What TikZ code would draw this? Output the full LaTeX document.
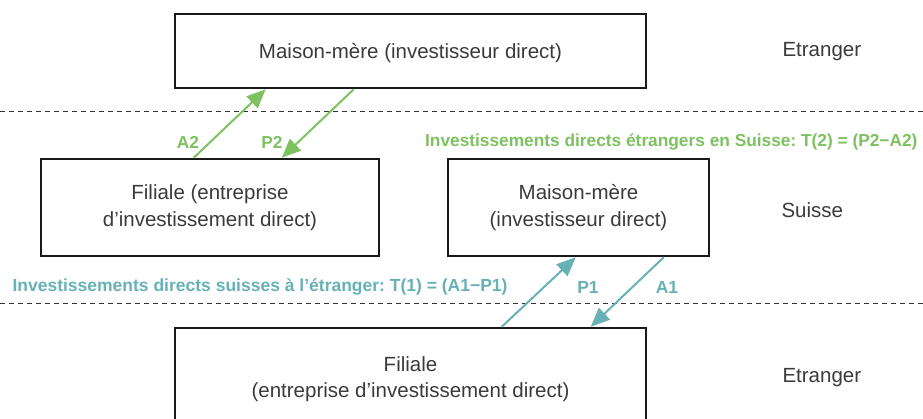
\documentclass[tikz,border=0pt]{standalone}
\usepackage{fontspec}
\setmainfont{Liberation Sans}
\usetikzlibrary{arrows.meta}
\frenchspacing
\definecolor{txt}{HTML}{3A3A3A}
\definecolor{grn}{HTML}{7DC160}
\definecolor{teal}{HTML}{67B1B6}
\tikzset{
  box/.style={draw=black!90, line width=2.5pt, text=txt, align=center, inner sep=0pt,
    font=\fontsize{20.5}{27}\selectfont},
  side/.style={text=txt, font=\fontsize{20.5}{24}\selectfont, anchor=west},
  sep/.style={dashed, dash pattern=on 5pt off 4pt, line width=1pt, black!80},
  garr/.style={grn, line width=2pt, -{Triangle[length=19pt,width=16pt]}},
  tarr/.style={teal, line width=2pt, -{Triangle[length=19pt,width=16pt]}},
  glab/.style={text=grn, font=\bfseries\fontsize{17.3}{20}\selectfont},
  tlab/.style={text=teal, font=\bfseries\fontsize{17.5}{20}\selectfont}
}
\begin{document}
\begin{tikzpicture}[x=1pt,y=-1pt]
\useasboundingbox (0,0) rectangle (923,418);
\clip (0,0) rectangle (923,418);
\coordinate (l1w) at (0,111); \coordinate (l1e) at (923,111);
\coordinate (l2w) at (0,303); \coordinate (l2e) at (923,303);
\draw[sep] (l1w) -- (l1e);
\draw[sep] (l2w) -- (l2e);
\node[box, minimum width=471pt, minimum height=74pt] (top) at (410.5,51) {};
\node[text=txt, font=\fontsize{20.5}{27}\selectfont] (toptxt) at (410.5,53) {Maison-mère (investisseur direct)};
\node[box, minimum width=338pt, minimum height=97pt] (fil) at (210,207.5) {Filiale (entreprise\\d’investissement direct)};
\node[box, minimum width=261pt, minimum height=97pt] (mid) at (578.5,207.5) {Maison-mère\\(investisseur direct)};
\node[box, minimum width=471pt, minimum height=112pt] (bot) at (410.5,384) {};
\node[text=txt, align=center, font=\fontsize{20.5}{26}\selectfont] (bottxt) at (410.5,379) {Filiale\\(entreprise d’investissement direct)};
\node[side] (e1) at (779,52) {Etranger};
\node[side] (s1) at (778,210) {Suisse};
\node[side] (e2) at (779,378) {Etranger};
\draw[garr] ([xshift=154pt]fil.north west) -- ([xshift=92pt]top.south west);
\draw[garr] ([xshift=180pt]top.south west) -- ([xshift=242pt]fil.north west);
\draw[tarr] ([xshift=328pt]bot.north west) -- ([xshift=129pt]mid.south west);
\draw[tarr] ([xshift=217pt]mid.south west) -- ([xshift=417pt]bot.north west);
\node[glab] (a2) at (188,142) {A2};
\node[glab] (p2) at (272,142) {P2};
\node[glab, anchor=east] (g) at (921,142) {Investissements directs étrangers en Suisse: T(2) = (P2−A2)};
\node[tlab, anchor=west] (t) at (9,287) {Investissements directs suisses à l’étranger: T(1) = (A1−P1)};
\node[tlab] (p1) at (588,287) {P1};
\node[tlab] (a1) at (667,287) {A1};
\end{tikzpicture}
\end{document}
